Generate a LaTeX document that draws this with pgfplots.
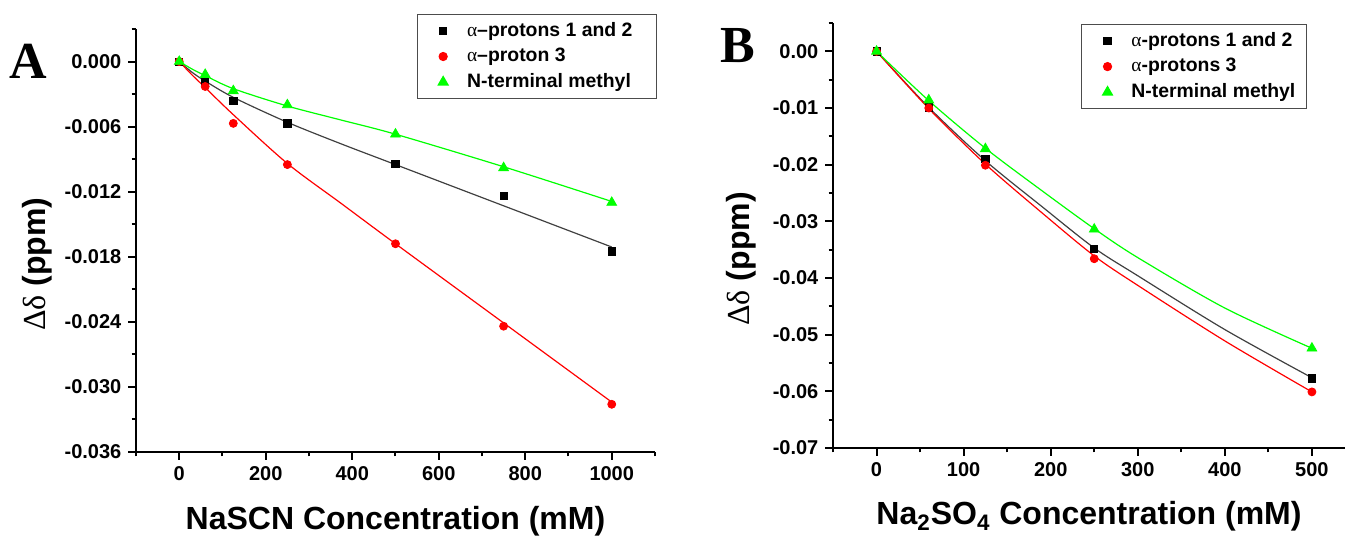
\documentclass[border=0pt]{standalone}
\usepackage{fontspec}
\setmainfont{Liberation Sans}
\newfontfamily\serifgr{Liberation Serif}
\usepackage{pgfplots}
\pgfplotsset{compat=1.18}

\definecolor{fitgreen}{RGB}{0,255,0}
\definecolor{fitred}{RGB}{255,0,0}

% shared look of both panels
\pgfplotsset{
  panel/.style={
    scale only axis,
    axis x line*=bottom,
    axis y line*=left,
    axis line style={line width=1.1pt},
    tick align=outside,
    major tick length=3.8pt,
    minor tick length=2.2pt,
    tick style={line width=1pt, black},
    ticklabel style={font=\fontsize{10}{12}\selectfont\bfseries},
    /pgf/number format/assume math mode=true,
    /pgf/number format/set thousands separator={},
    scaled y ticks=false,
    label style={font=\fontsize{16}{19}\selectfont\bfseries},
    legend cell align=left,
    legend style={draw=black!70, line width=0.6pt, row sep=0.4pt,
      font=\fontsize{9.7}{11}\selectfont\bfseries},
  },
  legmark/.style={legend image code/.code={%
    \path[draw=none, fill=none] (0cm,-1pt) rectangle (0.70cm,1pt);
    \draw[##1] plot coordinates {(0.35cm,0cm)};}},
  sq/.style={only marks, mark=square*, mark size=1.8pt, black, legmark},
  ci/.style={only marks, mark=*, mark size=2pt, fitred, legmark},
  tr/.style={only marks, mark=triangle*, mark size=2.8pt, fitgreen, legmark},
  fitline/.style={line width=0.6pt, smooth, forget plot, mark=none},
}

\begin{document}
\begin{tikzpicture}
\useasboundingbox (-68pt,-42.5pt) rectangle (604.5pt,226pt);

% ---------- panel A ----------
\begin{axis}[
  panel,
  at={(0pt,0pt)}, anchor=south west,
  width=259.5pt, height=211.5pt,
  xmin=-100, xmax=1100,
  ymin=-0.036, ymax=0.003,
  xtick={0,200,400,600,800,1000},
  minor xtick={-100,100,300,500,700,900,1100},
  ytick={-0.036,-0.03,-0.024,-0.018,-0.012,-0.006,0},
  minor ytick={-0.033,-0.027,-0.021,-0.015,-0.009,-0.003,0.003},
  yticklabel style={/pgf/number format/.cd, fixed, fixed zerofill, precision=3},
  xlabel={NaSCN Concentration (mM)},
  ylabel={{\serifgr\mdseries Δδ} (ppm)},
  xlabel style={at={(axis description cs:0.5,-0.184)}, anchor=base},
  ylabel style={at={(axis description cs:-0.19,0.444)}, anchor=center},
  legend style={at={(1.004,1.036)}, anchor=north east},
]
\addplot[fitline, black!75] coordinates {
  (0,0) (30,-0.0010) (60,-0.0018) (125,-0.0033) (250,-0.0056)
  (375,-0.0076) (500,-0.0095) (750,-0.0133) (1000,-0.0171)};
\addplot[fitline, fitred] coordinates {
  (0,0) (30,-0.00125) (60,-0.0024) (125,-0.0049) (250,-0.0094)
  (375,-0.0131) (500,-0.0168) (750,-0.0241) (1000,-0.0314)};
\addplot[fitline, fitgreen] coordinates {
  (0,0) (30,-0.0007) (60,-0.0013) (125,-0.0025) (250,-0.0041)
  (375,-0.0054) (500,-0.0067) (750,-0.0097) (1000,-0.0129)};

\addplot[sq] coordinates {
  (0,0) (60,-0.0019) (125,-0.0036) (250,-0.0057) (500,-0.0094) (750,-0.0124) (1000,-0.0175)};
\addplot[ci] coordinates {
  (0,0) (60,-0.0023) (125,-0.0057) (250,-0.0095) (500,-0.0168) (750,-0.0244) (1000,-0.0316)};
\addplot[tr] coordinates {
  (0,0) (60,-0.0012) (125,-0.0027) (250,-0.0040) (500,-0.0067) (750,-0.0098) (1000,-0.0130)};
\legend{{\serifgr\mdseries α}–protons 1 and 2\rule{7pt}{0pt}, {\serifgr\mdseries α}–proton 3, N-terminal methyl}
\end{axis}

% ---------- panel B ----------
\begin{axis}[
  panel,
  at={(348.5pt,2pt)}, anchor=south west,
  width=256pt, height=212.5pt,
  xmin=-50, xmax=538,
  ymin=-0.07, ymax=0.005,
  xtick={0,100,200,300,400,500},
  minor xtick={-50,50,150,250,350,450},
  ytick={-0.07,-0.06,-0.05,-0.04,-0.03,-0.02,-0.01,0},
  minor ytick={-0.065,-0.055,-0.045,-0.035,-0.025,-0.015,-0.005,0.005},
  yticklabel style={/pgf/number format/.cd, fixed, fixed zerofill, precision=2},
  xlabel={Na\textsubscript{2}SO\textsubscript{4} Concentration (mM)},
  ylabel={{\serifgr\mdseries Δδ} (ppm)},
  xlabel style={at={(axis description cs:0.5,-0.181)}, anchor=base},
  ylabel style={at={(axis description cs:-0.18,0.445)}, anchor=center},
  legend style={at={(0.926,0.998)}, anchor=north east},
]
\addplot[fitline, black!75] coordinates {
  (0,0) (60,-0.0099) (125,-0.0193) (190,-0.0274) (250,-0.0347)
  (300,-0.0396) (400,-0.0491) (500,-0.0576)};
\addplot[fitline, fitred] coordinates {
  (0,0) (60,-0.0101) (125,-0.0199) (190,-0.0285) (250,-0.0361)
  (300,-0.0413) (400,-0.0511) (500,-0.0601)};
\addplot[fitline, fitgreen] coordinates {
  (0,0) (60,-0.0087) (125,-0.0171) (190,-0.0246) (250,-0.0313)
  (300,-0.0364) (400,-0.0453) (500,-0.0524)};

\addplot[sq] coordinates {(0,0) (60,-0.0099) (125,-0.0190) (250,-0.0349) (500,-0.0577)};
\addplot[ci] coordinates {(0,0) (60,-0.0100) (125,-0.0201) (250,-0.0366) (500,-0.0601)};
\addplot[tr] coordinates {(0,0) (60,-0.0086) (125,-0.0172) (250,-0.0314) (500,-0.0524)};
\legend{{\serifgr\mdseries α}-protons 1 and 2\rule{2pt}{0pt}, {\serifgr\mdseries α}-protons 3, N-terminal methyl}
\end{axis}

\node[font=\fontsize{26}{26}\selectfont\serifgr\bfseries] at (-54pt,195.5pt) {A};
\node[font=\fontsize{26}{26}\selectfont\serifgr\bfseries] at (301pt,203pt) {B};
\end{tikzpicture}
\end{document}
